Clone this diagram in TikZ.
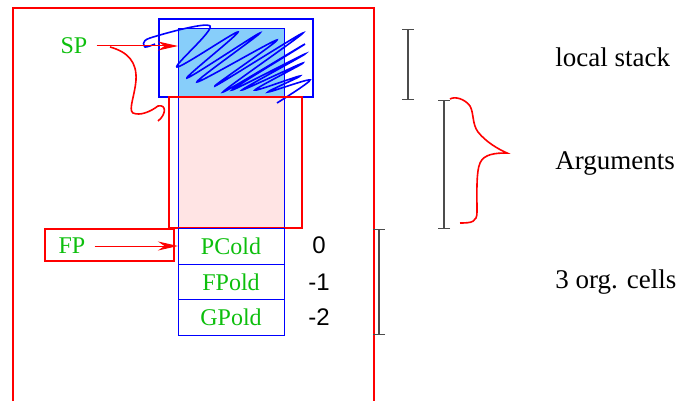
\documentclass[tikz,border=0pt]{standalone}
\usepackage{fontspec}
\setmainfont{Liberation Serif}
\newfontfamily\numfont{Liberation Sans}
\usepackage{tikz}
\usetikzlibrary{arrows.meta,positioning}
\definecolor{labgreen}{rgb}{0.05,0.75,0.05}
\definecolor{stackblue}{HTML}{87CEFA}
\definecolor{argpink}{HTML}{FFE4E4}

\begin{document}
\begin{tikzpicture}[
  x=0.5pt,y=-0.5pt,
  font=\fontsize{12}{14}\selectfont,
  cell/.style={draw=blue,line width=0.5pt,minimum width=53pt,minimum height=17.8pt,inner sep=0pt,outer sep=0pt,text=labgreen},
  area/.style={line width=0.5pt,minimum width=53pt,inner sep=0pt,outer sep=0pt},
  frame/.style={line width=1pt,inner sep=0pt,outer sep=0pt},
  reg/.style={text=labgreen,inner sep=0pt},
  num/.style={font=\numfont\fontsize{12}{14}\selectfont,inner sep=0pt},
  side/.style={font=\fontsize{13.5}{16}\selectfont,anchor=west,inner sep=0pt},
  ptr/.style={red,line width=0.5pt,shorten <=4.5pt,-{Stealth[length=10pt,width=4.5pt]}},
  span/.style={draw=black!70,line width=0.6pt,{Bar[width=6pt]}-{Bar[width=6pt]}}
]
\useasboundingbox (0,0) rectangle (684,401);
\draw[red,line width=1pt] (13,401) -- (13,8) -- (374,8) -- (374,401);

% stack column
\node[area,fill=stackblue,draw=blue,minimum height=34pt] (locfill) at (231,63) {};
\node[area,fill=argpink,draw=blue,minimum height=65.5pt] (argfill) at (231,162.5) {};
\draw[blue,line width=0.8pt] plot[smooth,tension=0.55] coordinates {(155,44) (145,47) (150,38) (210,26) (177,67) (238,32) (187,78) (260,33) (197,82) (277,40) (215,86) (303,33) (223,92) (305,44) (232,90) (305,54) (242,90) (303,63) (255,90) (300,76) (268,92) (310,80) (277,103)};
\node[frame,draw=blue,minimum width=77pt,minimum height=39pt] (loc) at (236,58) {};
\node[frame,draw=red,minimum width=66.5pt,minimum height=65.5pt] (args) at (235.5,162.5) {};

\node[cell] (PC) at (231,246.3) {PCold};
\node[cell,below=0pt of PC] (FPo) {FPold};
\node[cell,below=0pt of FPo] (GPo) {GPold};
\node[num] (n0) at (319,245) {0};
\node[num] (n1) at (n0 |- FPo) {-1};
\node[num] (n2) at (n0 |- GPo) {-2};

% registers
\node[reg] (SP) at (74,46) {SP};
\draw[ptr] (SP) -- (SP -| locfill.west);
\coordinate (kink) at (110,47);
\draw[red,line width=0.8pt] (kink) .. controls (128,52) and (137,62) .. (136,80)
  .. controls (135,95) and (128,110) .. (133,113)
  .. controls (140,116) and (150,112) .. (158,106)
  .. controls (167,104) and (166,115) .. (158,121);
\node[frame,draw=red,minimum width=64.5pt,minimum height=16pt] (FPbox) at (109.5,245) {};
\node[reg] (FP) at (72,246) {FP};
\draw[ptr] (FP) -- (FP -| PC.west);

% spans
\coordinate (ls1) at (408,29); \coordinate (ls2) at (408,100);
\coordinate (ar1) at (444,100); \coordinate (ar2) at (444,229);
\coordinate (oc1) at (379,229); \coordinate (oc2) at (379,335);
\draw[span] (ls1) -- (ls2);
\draw[span] (ar1) -- (ar2);
\draw[span] (oc1) -- (oc2);
\draw[red,line width=0.8pt] (450,99) .. controls (455,96) and (465,99) .. (470,106)
  .. controls (474,113) and (472,124) .. (478,132)
  .. controls (486,142) and (498,149) .. (507,153)
  .. controls (495,153) and (484,154) .. (480,163)
  .. controls (476,172) and (477,195) .. (477,212)
  .. controls (477,222) and (472,223) .. (460,223);

\node[side] (LS) at (555,57) {local stack};
\node[side] (AR) at (555,163) {Arguments};
\node[side] (OC) at (555,282) {3 org. cells};
\end{tikzpicture}
\end{document}
